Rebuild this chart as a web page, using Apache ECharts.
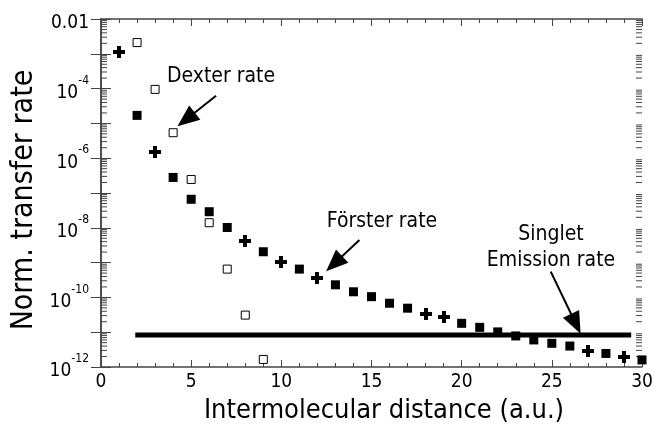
<!DOCTYPE html>
<html>
<head>
<meta charset="utf-8">
<script src="https://cdn.jsdelivr.net/npm/echarts@6/dist/echarts.min.js"></script>
<style>html,body{margin:0;padding:0;background:#fff}#c{width:656px;height:428px}</style>
</head>
<body>
<div id="c"></div>
<script>
// ---- data ----
// Förster rate, square markers
var squareX = [2,4,5,6,7,9,11,13,14,15,16,17,20,21,22,23,24,25,26,28,30];
var squareY = [1.7e-5,2.8e-7,6.6e-8,2.9e-8,1.02e-8,2.05e-9,6.5e-10,2.3e-10,1.45e-10,1.05e-10,6.8e-11,4.9e-11,1.8e-11,1.38e-11,1.02e-11,7.8e-12,6.0e-12,4.8e-12,4.0e-12,2.45e-12,1.6e-12];
// Förster rate, cross markers
var crossX = [1,3,8,10,12,18,19,27,29];
var crossY = [1.15e-3,1.55e-6,4.3e-9,1.07e-9,3.55e-10,3.3e-11,2.7e-11,2.95e-12,2.0e-12];
// Dexter rate, open markers
var dexterX = [2,3,4,5,6,7,8,9];
var dexterY = [2.1e-3,9.5e-5,5.4e-6,2.45e-7,1.4e-8,6.5e-10,3.1e-11,1.65e-12];
// Singlet emission rate
var singletX = [1.9, 29.4];
var singletY = [8.3e-12, 8.3e-12];
var xTicks = [0,5,10,15,20,25,30];
var yDecades = [-12,-11,-10,-9,-8,-7,-6,-5,-4,-3,-2];
// arrows: [startX, startY, endX, endY]
var arrowDexter = [6.38, 6.2e-5, 4.72, 1.3e-5];
var arrowForster = [14.33, 4.47e-9, 12.93, 9.3e-10];
var arrowSinglet = [24.94, 5.5e-10, 26.33, 1.75e-11];

var FONT = "'DejaVu Sans Condensed', 'DejaVu Sans', sans-serif";
var AX = '#444';

function zip(a, b) { return a.map(function (v, i) { return [v, b[i]]; }); }

// log minor tick values (2..9 x 10^n)
var minorVals = [];
yDecades.slice(0, -1).forEach(function (e) {
  for (var m = 2; m <= 9; m++) minorVals.push([0, m * Math.pow(10, e)]);
});

var chart = echarts.init(document.getElementById('c'), null, {renderer: 'canvas'});

function yFmt(v) {
  var e = Math.round(Math.log10(v));
  if (e === -2) return '{n|0.01}';
  if (e % 2 === 0) return '{n|10}{s|' + e + '}';
  return '';
}

var xCommon = {
  type: 'value', min: 0, max: 30, interval: 5,
  axisLine: {show: true, lineStyle: {color: AX, width: 1.5}},
  axisTick: {show: true, inside: true, length: 7, lineStyle: {color: AX}},
  minorTick: {show: true, splitNumber: 5, length: 4, lineStyle: {color: AX}},
  splitLine: {show: false}
};
var yCommon = {
  type: 'log', logBase: 10, min: 1e-12, max: 1e-2,
  axisLine: {show: true, lineStyle: {color: AX, width: 1.5}},
  axisTick: {show: true, inside: true, length: 10, lineStyle: {color: AX}},
  splitLine: {show: false}
};

function arrowLine(a) {
  return [{coord: [a[0], a[1]]}, {coord: [a[2], a[3]]}];
}

chart.setOption({
  animation: false,
  backgroundColor: '#fff',
  grid: {left: 101, top: 19, right: 14, bottom: 61, containLabel: false},
  xAxis: [
    Object.assign({}, xCommon, {position: 'bottom',
      axisLabel: {show: true, color: '#000', fontFamily: FONT, fontSize: 19, margin: 6,
        formatter: function (v) { return xTicks.indexOf(v) >= 0 ? String(v) : ''; }}}),
    Object.assign({}, xCommon, {position: 'top', axisLabel: {show: false}})
  ],
  yAxis: [
    Object.assign({}, yCommon, {position: 'left',
      axisLabel: {show: true, color: '#000', fontFamily: FONT, margin: 12, formatter: yFmt,
        rich: {
          n: {fontSize: 19, fontFamily: FONT, color: '#000', lineHeight: 28, verticalAlign: 'bottom'},
          s: {fontSize: 12, fontFamily: FONT, color: '#000', lineHeight: 14, verticalAlign: 'top'}
        }}}),
    Object.assign({}, yCommon, {position: 'right', axisLabel: {show: false}})
  ],
  graphic: [
    {type: 'text', x: 384, y: 411, style: {text: 'Intermolecular distance (a.u.)', font: '27px ' + FONT, fill: '#000', textAlign: 'center', textVerticalAlign: 'middle'}},
    {type: 'text', rotation: Math.PI / 2, x: 24, y: 200, style: {text: 'Norm. transfer rate', font: '30px ' + FONT, fill: '#000', textAlign: 'center', textVerticalAlign: 'middle'}},
    {type: 'text', x: 221, y: 77, style: {text: 'Dexter rate', font: '21px ' + FONT, fill: '#000', textAlign: 'center', textVerticalAlign: 'middle'}},
    {type: 'text', x: 382, y: 222, style: {text: 'Förster rate', font: '21px ' + FONT, fill: '#000', textAlign: 'center', textVerticalAlign: 'middle'}},
    {type: 'text', x: 551, y: 235, style: {text: 'Singlet', font: '21px ' + FONT, fill: '#000', textAlign: 'center', textVerticalAlign: 'middle'}},
    {type: 'text', x: 551, y: 261, style: {text: 'Emission rate', font: '21px ' + FONT, fill: '#000', textAlign: 'center', textVerticalAlign: 'middle'}}
  ],
  series: [
    {
      type: 'custom', name: 'minorTicks', xAxisIndex: 0, yAxisIndex: 0, silent: true, clip: false,
      data: minorVals,
      renderItem: function (params, api) {
        var v = api.value(1);
        var pl = api.coord([0, v]);
        var pr = api.coord([30, v]);
        return {type: 'group', children: [
          {type: 'line', shape: {x1: pl[0], y1: pl[1], x2: pl[0] + 6, y2: pl[1]}, style: {stroke: AX, lineWidth: 1}},
          {type: 'line', shape: {x1: pr[0], y1: pr[1], x2: pr[0] - 6, y2: pr[1]}, style: {stroke: AX, lineWidth: 1}}
        ]};
      }
    },
    {
      type: 'line', name: 'Singlet emission rate', data: zip(singletX, singletY), symbol: 'none',
      lineStyle: {color: '#000', width: 5}, silent: true,
      markLine: {
        silent: true, symbol: ['none', 'triangle'], symbolSize: [18, 22],
        lineStyle: {color: '#000', width: 2, type: 'solid'}, label: {show: false},
        data: [arrowLine(arrowDexter), arrowLine(arrowForster), arrowLine(arrowSinglet)]
      }
    },
    {
      type: 'scatter', name: 'Dexter rate', data: zip(dexterX, dexterY), symbol: 'rect', symbolSize: 8,
      itemStyle: {color: '#fff', borderColor: '#000', borderWidth: 1, opacity: 1}
    },
    {
      type: 'scatter', name: 'Förster rate', data: zip(squareX, squareY), symbol: 'rect', symbolSize: 9,
      itemStyle: {color: '#000', opacity: 1}
    },
    {
      type: 'custom', name: 'Förster rate (b)', data: zip(crossX, crossY), clip: false,
      renderItem: function (params, api) {
        var p = api.coord([api.value(0), api.value(1)]);
        var s = 12, a = 4;
        var x0 = Math.round(p[0] - s / 2), y0 = Math.round(p[1] - s / 2);
        return {type: 'group', children: [
          {type: 'rect', shape: {x: x0, y: y0 + (s - a) / 2, width: s, height: a}, style: {fill: '#000'}},
          {type: 'rect', shape: {x: x0 + (s - a) / 2, y: y0, width: a, height: s}, style: {fill: '#000'}}
        ]};
      }
    }
  ]
});
</script>
</body>
</html>
